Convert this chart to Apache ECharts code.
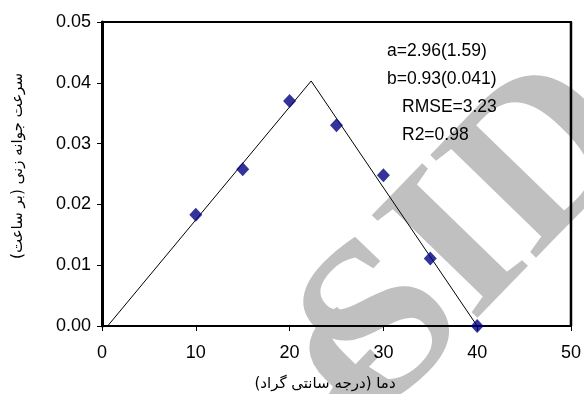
<!DOCTYPE html>
<html>
<head>
<meta charset="utf-8">
<script src="https://cdn.jsdelivr.net/npm/echarts@6/dist/echarts.min.js"></script>
<style>
html,body{margin:0;padding:0;background:#fff;overflow:hidden;}
#c{width:584px;height:394px;}
</style>
</head>
<body>
<div id="c"></div>
<script>
// Observed data: temperature (°C) vs germination rate (1/h)
var temps = [10, 15, 20, 25, 30, 35, 40];
var rates = [0.0183, 0.0258, 0.0370, 0.0330, 0.0248, 0.0111, 0.0000];
// Fitted segmented (triangle) model
var fitX = [0.6, 22.3, 40];
var fitY = [0.0, 0.0403, 0.0];
// Axis ranges
var xMin = 0, xMax = 50, xStep = 10;
var yMin = 0, yMax = 0.05, yStep = 0.01;
// Fit statistics
var statLines = ['a=2.96(1.59)', 'b=0.93(0.041)', 'RMSE=3.23', 'R2=0.98'];
var yTitle = 'سرعت جوانه زنی (بر ساعت)';
var xTitle = 'دما (درجه سانتی گراد)';
var wmA = 'f';
var wmB = 'SID';

var chart = echarts.init(document.getElementById('c'), null, {renderer: 'canvas'});

var scatterData = temps.map(function (t, i) { return [t, rates[i]]; });
var lineData = fitX.map(function (t, i) { return [t, fitY[i]]; });

var statX = [387, 387, 402, 402];
var statY = [51, 79, 107, 135];
var wmStyle = {fontFamily: 'Liberation Serif', fontWeight: 'bold', fontSize: 225,
  fill: '#c0c0c0', align: 'center', verticalAlign: 'middle'};
var graphics = [
  {id: 'wmA', type: 'text', z: -10, x: 380, y: 404, rotation: 0.8,
    style: Object.assign({text: wmA}, wmStyle)},
  {id: 'wmB', type: 'text', z: -10, x: 474, y: 238, rotation: 0.8,
    style: Object.assign({text: wmB}, wmStyle)},
  {
    id: 'yt', type: 'text', x: 18, y: 166, rotation: Math.PI / 2,
    style: {text: yTitle, fontFamily: 'DejaVu Sans', fontSize: 15, fill: '#000',
      align: 'center', verticalAlign: 'middle'}
  },
  {
    id: 'xt', type: 'text', x: 325, y: 384,
    style: {text: xTitle, fontFamily: 'DejaVu Sans', fontSize: 15, fill: '#000',
      align: 'center', verticalAlign: 'middle'}
  }
];
statLines.forEach(function (s, i) {
  graphics.push({
    id: 'st' + i, type: 'text', x: statX[i], y: statY[i], z: 100,
    style: {text: s, fontFamily: 'Liberation Sans', fontSize: 17.5, fill: '#000',
      align: 'left', verticalAlign: 'middle'}
  });
});

var hidden = {show: false};
chart.setOption({
  animation: false,
  backgroundColor: '#fff',
  grid: {left: 102, right: 11, top: 22, bottom: 68, show: true,
    borderColor: '#000', borderWidth: 2, backgroundColor: 'rgba(255,255,255,0)'},
  xAxis: {
    type: 'value', min: xMin, max: xMax, interval: xStep,
    axisLine: {show: true, onZero: false, lineStyle: {color: '#000', width: 2}},
    axisTick: {show: true, inside: false, length: 5, lineStyle: {color: '#000', width: 1}},
    axisLabel: {color: '#000', fontSize: 18, fontFamily: 'Liberation Sans', margin: 18},
    splitLine: hidden
  },
  yAxis: {
    type: 'value', min: yMin, max: yMax, interval: yStep,
    axisLine: {show: true, onZero: false, lineStyle: {color: '#000', width: 3}},
    axisTick: {show: true, inside: false, length: 5, lineStyle: {color: '#000', width: 1}},
    axisLabel: {color: '#000', fontSize: 18, fontFamily: 'Liberation Sans', margin: 11,
      formatter: function (v) { return v.toFixed(2); }},
    splitLine: hidden
  },
  graphic: graphics,
  series: [
    {
      type: 'line', data: lineData, showSymbol: false, symbol: 'none',
      lineStyle: {color: '#000', width: 1}, z: 3, silent: true
    },
    {
      type: 'scatter', data: scatterData, symbol: 'diamond', symbolSize: [13, 14],
      itemStyle: {color: '#000080'}, z: 4, clip: false
    }
  ]
});

// Plot frame (top and right edges) placed through the library's own scales
var pTL = chart.convertToPixel({gridIndex: 0}, [xMin, yMax]);
var pBR = chart.convertToPixel({gridIndex: 0}, [xMax, yMin]);
chart.setOption({
  graphic: graphics.concat([{
    id: 'frameTop', type: 'line', z: 50, silent: true,
    shape: {x1: pTL[0], y1: pTL[1], x2: pBR[0], y2: pTL[1]},
    style: {stroke: '#000', lineWidth: 2}
  }, {
    id: 'frameRight', type: 'line', z: 50, silent: true,
    shape: {x1: pBR[0], y1: pTL[1], x2: pBR[0], y2: pBR[1]},
    style: {stroke: '#000', lineWidth: 2.5}
  }])
});
</script>
</body>
</html>
